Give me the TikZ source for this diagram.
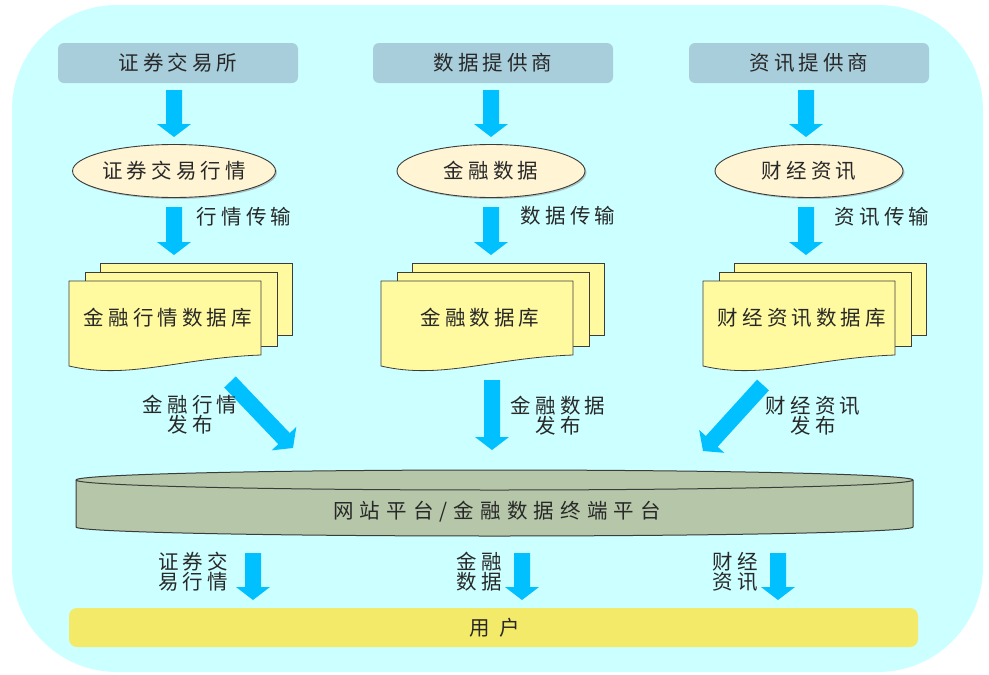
\documentclass[tikz,border=0pt]{standalone}
\usepackage{fontspec}
\usetikzlibrary{shapes.geometric,calc,shadows}
\newfontfamily\cjk[LetterSpace=20]{Noto Sans CJK SC}
\definecolor{bgc}{RGB}{204,255,255}
\definecolor{topc}{RGB}{168,206,220}
\definecolor{ellc}{RGB}{255,245,212}
\definecolor{docc}{RGB}{255,250,160}
\definecolor{cylc}{RGB}{181,199,168}
\definecolor{userc}{RGB}{242,234,104}
\definecolor{arrowc}{RGB}{0,192,255}
\definecolor{txtc}{RGB}{40,40,40}
\definecolor{linec}{RGB}{60,60,60}
\tikzset{
  txt/.style={font=\cjk\fontsize{20.5pt}{20pt}\selectfont, text=txtc, inner sep=0pt, align=center},
  topbox/.style={txt, fill=topc, rounded corners=6pt, minimum width=240pt, minimum height=40pt},
  ell/.style={txt, ellipse, draw=linec, line width=0.9pt, fill=ellc, minimum width=188pt, minimum height=53pt,
    drop shadow={shadow xshift=1.5pt, shadow yshift=-1.5pt, opacity=0.45}},
  docshape/.style={fill=docc, draw=linec, line width=0.8pt},
  lab/.style={txt},
}
\newcommand\blockarrow[2]{%
  \coordinate (hb) at ($(#2)!13pt!(#1)$);
  \fill[arrowc] ($(#1)!8pt!90:(#2)$) -- ($(hb)!8pt!90:(#2)$) -- ($(hb)!17pt!90:(#2)$) -- (#2)
    -- ($(hb)!17pt!-90:(#2)$) -- ($(hb)!8pt!-90:(#2)$) -- ($(#1)!8pt!-90:(#2)$) -- cycle;}
\newcommand\docstack[3]{%
  \path[docshape] (#1+31,263) rectangle (#1+223,335);
  \path[docshape] (#1+16,272) rectangle (#1+208,346);
  \path[docshape] (#1,281) -- (#1+192,281) -- (#1+192,355) .. controls (#1+110,358) and (#1+60,380) .. (#1,366) -- cycle;
  \node[txt] (#2) at (#1+99,318) {#3};}
\begin{document}
\begin{tikzpicture}[x=1pt,y=-1pt]
\useasboundingbox (0,0) rectangle (989,675);
\fill[bgc, rounded corners=105pt] (12,5) rectangle (983,672);

% top sources
\node[topbox] (src1) at (178,63) {证券交易所};
\node[topbox] (src2) at (493,63) {数据提供商};
\node[topbox] (src3) at (809,63) {资讯提供商};

% ellipses
\node[ell] (ell1) at (174,171) {证券交易行情};
\node[ell] (ell2) at (491,171) {金融数据};
\node[ell] (ell3) at (809,171) {财经资讯};

% arrows sources -> ellipses
\coordinate (a1s) at (174,90);  \coordinate (a1e) at (174,137);
\coordinate (a2s) at (491,90);  \coordinate (a2e) at (491,137);
\coordinate (a3s) at (806,90);  \coordinate (a3e) at (806,137);
\blockarrow{a1s}{a1e}\blockarrow{a2s}{a2e}\blockarrow{a3s}{a3e}

% arrows ellipses -> databases
\coordinate (b1s) at (174,207); \coordinate (b1e) at (174,255);
\coordinate (b2s) at (491,207); \coordinate (b2e) at (491,255);
\coordinate (b3s) at (806,207); \coordinate (b3e) at (806,255);
\blockarrow{b1s}{b1e}\blockarrow{b2s}{b2e}\blockarrow{b3s}{b3e}
\node[lab] (t1) at (244,217) {行情传输};
\node[lab] (t2) at (568,216) {数据传输};
\node[lab] (t3) at (882,217) {资讯传输};

% databases
\docstack{69}{db1}{金融行情数据库}
\docstack{381}{db2}{金融数据库}
\docstack{703}{db3}{财经资讯数据库}

% publish arrows
\coordinate (c1s) at (230,382); \coordinate (c1e) at (293,448);
\coordinate (c2s) at (492,380); \coordinate (c2e) at (492,450);
\coordinate (c3s) at (763,385); \coordinate (c3e) at (703,451);
\blockarrow{c1s}{c1e}\blockarrow{c2s}{c2e}\blockarrow{c3s}{c3e}
\node[lab] (p1) at (190,415) {金融行情\\发布};
\node[lab] (p2) at (558,416) {金融数据\\发布};
\node[lab] (p3) at (813,416) {财经资讯\\发布};

% platform cylinder
\path[fill=cylc, draw=linec, line width=1pt] (76,480) -- (76,527)
  arc[start angle=180, end angle=0, x radius=418.5, y radius=9] -- (913,480)
  arc[start angle=0, end angle=-180, x radius=418.5, y radius=10] -- cycle;
\draw[linec, line width=1pt] (76,480) arc[start angle=180, end angle=0, x radius=418.5, y radius=10];
\node[txt] (plat) at (497,512) {\addfontfeature{LetterSpace=30}网站平台/金融数据终端平台};

% arrows to users
\coordinate (d1s) at (253,553); \coordinate (d1e) at (253,600);
\coordinate (d2s) at (522,553); \coordinate (d2e) at (522,600);
\coordinate (d3s) at (778,553); \coordinate (d3e) at (778,600);
\blockarrow{d1s}{d1e}\blockarrow{d2s}{d2e}\blockarrow{d3s}{d3e}
\node[lab] (u1) at (193,572) {证券交\\易行情};
\node[lab] (u2) at (479,572) {金融\\数据};
\node[lab] (u3) at (735,572) {财经\\资讯};

% users bar
\node[txt, fill=userc, rounded corners=8pt, minimum width=849pt, minimum height=39pt] (user) at (493.5,627.5) {};
\node[txt] (usertxt) at (495,628) {用\hspace{10pt}户};
\end{tikzpicture}
\end{document}
